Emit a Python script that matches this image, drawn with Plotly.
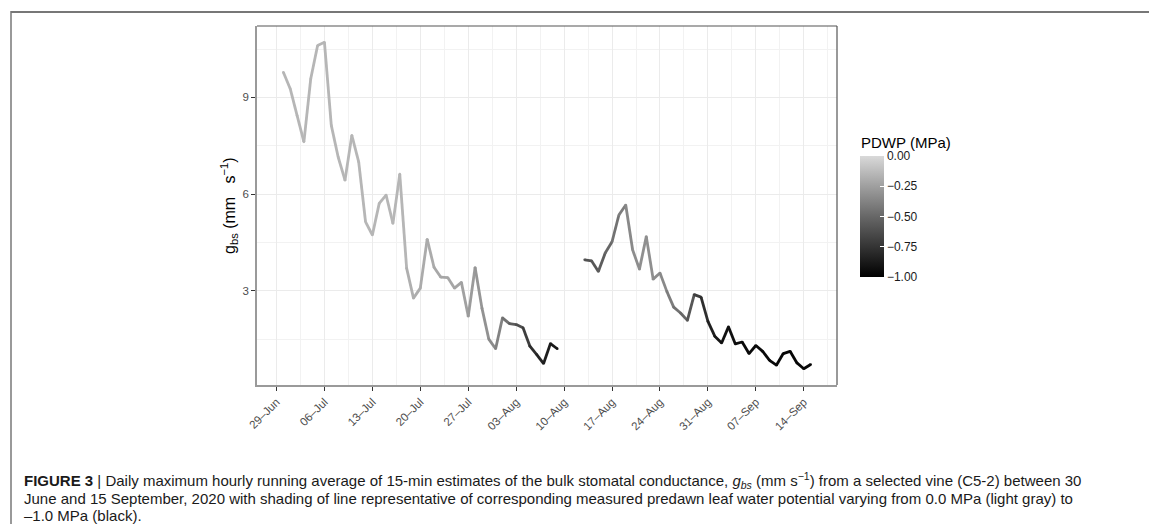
import plotly.graph_objects as go
from plotly.colors import sample_colorscale
import pandas as pd

# ---------------- data ----------------
dates_seg1_start = "2020-06-30"
gbs_seg1 = [9.78, 9.27, 8.44, 7.62, 9.58, 10.61, 10.71, 8.13, 7.15, 6.43,
            7.82, 7.00, 5.14, 4.73, 5.71, 5.97, 5.09, 6.62, 3.70, 2.77,
            3.08, 4.60, 3.73, 3.42, 3.41, 3.08, 3.26, 2.21, 3.72, 2.46,
            1.50, 1.20, 2.16, 1.98, 1.95, 1.85, 1.28, 1.02, 0.74, 1.36,
            1.20]
pdwp_seg1 = [-0.15] * 18 + [-0.18, -0.19, -0.20, -0.20, -0.21, -0.22, -0.22, -0.23, -0.24,
                             -0.27, -0.29, -0.31, -0.34, -0.38, -0.45, -0.55, -0.62, -0.70,
                             -0.78, -0.83, -0.86, -0.88, -0.90]
dates_seg2_start = "2020-08-13"
gbs_seg2 = [3.96, 3.93, 3.60, 4.17, 4.52, 5.35, 5.66, 4.27, 3.67, 4.68,
            3.36, 3.55, 2.98, 2.49, 2.31, 2.08, 2.88, 2.80, 2.05, 1.59,
            1.38, 1.88, 1.35, 1.41, 1.05, 1.30, 1.12, 0.84, 0.69, 1.05,
            1.12, 0.76, 0.58, 0.71]
pdwp_seg2 = [-0.60, -0.58, -0.55, -0.50, -0.45, -0.40, -0.35, -0.33, -0.32, -0.32,
             -0.33, -0.35, -0.40, -0.45, -0.50, -0.58, -0.70, -0.78, -0.85, -0.90,
             -0.92, -0.93, -0.94, -0.95, -0.95, -0.95, -0.96, -0.96, -0.96, -0.97,
             -0.97, -0.97, -0.97, -0.97]

tick_dates = ["2020-06-29", "2020-07-06", "2020-07-13", "2020-07-20", "2020-07-27",
              "2020-08-03", "2020-08-10", "2020-08-17", "2020-08-24", "2020-08-31",
              "2020-09-07", "2020-09-14"]
tick_labels = ["29–Jun", "06–Jul", "13–Jul", "20–Jul", "27–Jul", "03–Aug",
               "10–Aug", "17–Aug", "24–Aug", "31–Aug", "07–Sep", "14–Sep"]
y_ticks = [3, 6, 9]
cbar_ticks = [0.0, -0.25, -0.5, -0.75, -1.0]
cbar_labels = ["0.00", "−0.25", "−0.50", "−0.75", "−1.00"]

colorscale = [[0.0, "#000000"], [0.25, "#343434"], [0.5, "#676767"],
              [0.75, "#9f9f9f"], [1.0, "#d9d9d9"]]

segments = [
    (pd.date_range(dates_seg1_start, periods=len(gbs_seg1), freq="D"), gbs_seg1, pdwp_seg1),
    (pd.date_range(dates_seg2_start, periods=len(gbs_seg2), freq="D"), gbs_seg2, pdwp_seg2),
]

# page has an 8px body margin; work in page pixels and convert
OFF = 8
W, H = 1157 - OFF, 524 - OFF


def fx(px):
    return (px - OFF) / W


def fy(py):
    return 1 - (py - OFF) / H


px0, px1, py0, py1 = 257, 837, 26, 385  # panel in page pixels

fig = go.Figure()


def col(p):
    return sample_colorscale(colorscale, [(p + 1.0)])[0]


for dts, vals, pw in segments:
    for i in range(len(vals) - 1):
        fig.add_trace(go.Scatter(
            x=[dts[i], dts[i + 1]], y=[vals[i], vals[i + 1]], mode="lines",
            line=dict(color=col(pw[i]), width=2.8), hoverinfo="skip", showlegend=False))

all_x = list(segments[0][0]) + list(segments[1][0])
all_y = gbs_seg1 + gbs_seg2
all_p = pdwp_seg1 + pdwp_seg2
fig.add_trace(go.Scatter(
    x=all_x, y=all_y, mode="markers", showlegend=False,
    marker=dict(size=2.6, color=all_p, colorscale=colorscale, cmin=-1, cmax=0,
                line=dict(width=0),
                showscale=True,
                colorbar=dict(
                    thicknessmode="pixels", thickness=24,
                    lenmode="pixels", len=121,
                    x=fx(860), xanchor="left", xpad=0,
                    y=fy(156), yanchor="top", ypad=0,
                    outlinewidth=0,
                    tickmode="array", tickvals=cbar_ticks, ticktext=cbar_labels,
                    ticks="inside", ticklen=4, tickcolor="white", tickwidth=1,
                    tickfont=dict(family="Liberation Sans", size=12, color="#1a1a1a"),
                ))))

xr0 = pd.Timestamp("2020-06-30") - pd.Timedelta(days=3.85)
xr1 = pd.Timestamp("2020-09-15") + pd.Timedelta(days=3.85)

fig.update_layout(
    template="none",
    width=W, height=H,
    margin=dict(l=0, r=0, t=0, b=0),
    paper_bgcolor="white", plot_bgcolor="white",
    xaxis=dict(
        domain=[fx(px0), fx(px1)], range=[xr0, xr1], type="date",
        tickmode="array", tickvals=tick_dates, ticktext=tick_labels,
        tickangle=-45, ticks="outside", ticklen=4, tickcolor="#333333", tickwidth=1,
        tickfont=dict(family="Liberation Sans", size=11.5, color="#4d4d4d"),
        showgrid=True, gridcolor="#ebebeb", gridwidth=1.3,
        minor=dict(tickmode="linear", tick0="2020-07-02 12:00", dtick=7 * 86400000,
                   showgrid=True, gridcolor="#f2f2f2", gridwidth=0.8, ticks=""),
        showline=True, linecolor="#9a9a9a", linewidth=1.5,
        zeroline=False, automargin=False,
    ),
    yaxis=dict(
        domain=[fy(py1), fy(py0)], range=[0.075, 11.215],
        tickmode="array", tickvals=y_ticks,
        ticks="outside", ticklen=4, tickcolor="#333333", tickwidth=1,
        tickfont=dict(family="Liberation Sans", size=11.5, color="#4d4d4d"),
        showgrid=True, gridcolor="#ebebeb", gridwidth=1.3,
        minor=dict(tickmode="linear", tick0=1.5, dtick=3,
                   showgrid=True, gridcolor="#f2f2f2", gridwidth=0.8, ticks=""),
        showline=True, linecolor="#9a9a9a", linewidth=1.5,
        zeroline=False, automargin=False,
    ),
    font=dict(family="Liberation Sans", color="#000000"),
)

shapes = [
    # panel top & right border
    dict(type="line", xref="paper", yref="paper", x0=fx(px0), x1=fx(px1),
         y0=fy(py0), y1=fy(py0), line=dict(color="#555555", width=1.2), layer="above"),
    dict(type="line", xref="paper", yref="paper", x0=fx(px1), x1=fx(px1),
         y0=fy(py0), y1=fy(py1), line=dict(color="#555555", width=1.2), layer="above"),
    # page frame
    dict(type="line", xref="paper", yref="paper", x0=fx(11), x1=1.0,
         y0=fy(12), y1=fy(12), line=dict(color="#777777", width=2)),
    dict(type="line", xref="paper", yref="paper", x0=fx(11), x1=fx(11),
         y0=fy(11), y1=0, line=dict(color="#777777", width=1.5)),
]
fig.update_layout(shapes=shapes)

cap_font = dict(family="Liberation Sans", size=15, color="#1a1a1a")
ann = [
    dict(text="g<sub>bs</sub> (mm&nbsp;&nbsp;&nbsp;s<sup>−1</sup>)", x=fx(229), y=fy(206),
         xref="paper", yref="paper", showarrow=False, textangle=-90,
         font=dict(size=16, color="#000000"), xanchor="center", yanchor="middle"),
    dict(text="PDWP (MPa)", x=fx(859), y=fy(142), xref="paper", yref="paper",
         showarrow=False, xanchor="left", yanchor="middle",
         font=dict(size=15, color="#000000")),
    dict(text="<b>FIGURE 3</b> | Daily maximum hourly running average of 15-min estimates of the bulk stomatal conductance, "
              "<i>g<sub>bs</sub></i> (mm s<sup>−1</sup>) from a selected vine (C5-2) between 30",
         x=fx(22), y=fy(480.5), xref="paper", yref="paper", showarrow=False,
         xanchor="left", yanchor="middle", font=cap_font),
    dict(text="June and 15 September, 2020 with shading of line representative of corresponding measured "
              "predawn leaf water potential varying from 0.0 MPa (light gray) to",
         x=fx(22), y=fy(498.5), xref="paper", yref="paper", showarrow=False,
         xanchor="left", yanchor="middle", font=cap_font),
    dict(text="–1.0 MPa (black).",
         x=fx(22), y=fy(515.5), xref="paper", yref="paper", showarrow=False,
         xanchor="left", yanchor="middle", font=cap_font),
]
fig.update_layout(annotations=ann)

fig.write_html("out.html")
